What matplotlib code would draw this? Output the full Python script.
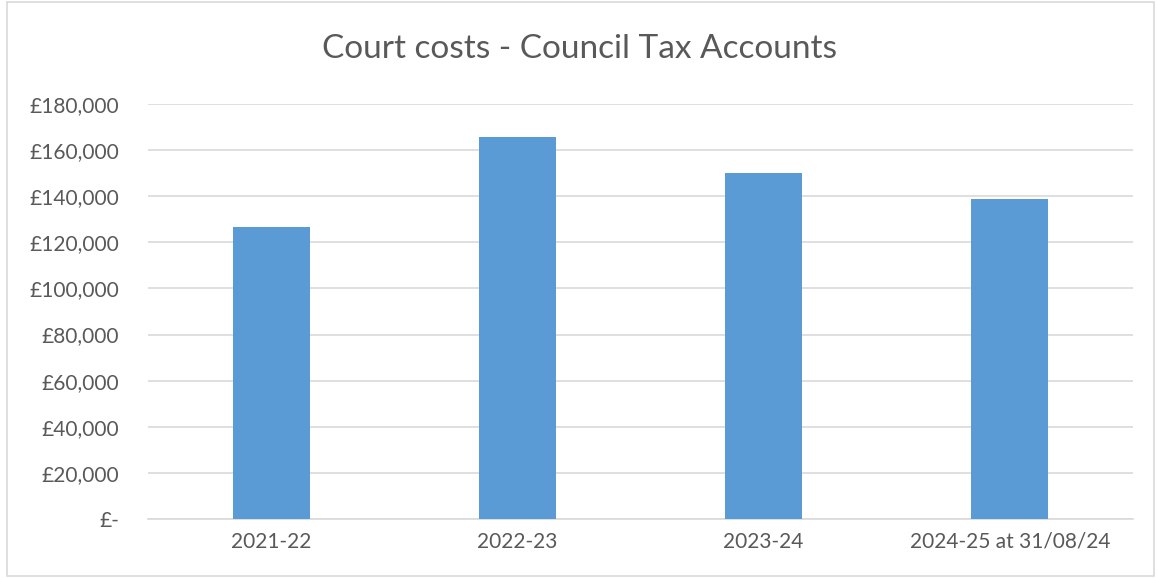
import matplotlib
matplotlib.use("Agg")
import matplotlib.pyplot as plt
from matplotlib.ticker import FuncFormatter, MultipleLocator
from matplotlib.patches import Rectangle

categories = ["2021-22", "2022-23", "2023-24", "2024-25 at 31/08/24"]
values = [126700, 165700, 150000, 138700]
title = "Court costs - Council Tax Accounts"

plt.rcParams['font.family'] = ['Lato', 'DejaVu Sans']

fig = plt.figure(figsize=(11.58, 5.78), dpi=100)
ax = fig.add_axes([148/1158, 1 - 519/578, (1133-148)/1158, (519-104)/578])

x = range(len(categories))
ax.bar(x, values, width=0.313, color="#5b9bd5", zorder=3)
ax.set_xlim(-0.5, len(categories) - 0.5)
ax.set_ylim(0, 180000)
ax.yaxis.set_major_locator(MultipleLocator(20000))

def fmt(v, pos):
    if v == 0:
        return "£-"
    return "£{:,.0f}".format(v)

ax.yaxis.set_major_formatter(FuncFormatter(fmt))
ax.set_xticks(list(x))
ax.set_xticklabels(categories)
ax.grid(axis="y", color="#d9d9d9", linewidth=1.2, zorder=0)
for s in ["top", "right", "left"]:
    ax.spines[s].set_visible(False)
ax.spines["bottom"].set_color("#d9d9d9")
ax.spines["bottom"].set_linewidth(1.2)
ax.tick_params(axis="both", length=0, labelsize=15, colors="#595959")
ax.tick_params(axis="y", pad=21)
ax.tick_params(axis="x", pad=9)

fig.text(0.5, 1 - 49/578, title, ha="center", va="center", fontsize=24, color="#595959")

fig.patches.append(Rectangle((7/1158, 0.003), (1154-7)/1158, 0.994, transform=fig.transFigure,
                             fill=False, edgecolor="#d9d9d9", linewidth=1.2))

fig.savefig("out.png", dpi=100, facecolor="white")
